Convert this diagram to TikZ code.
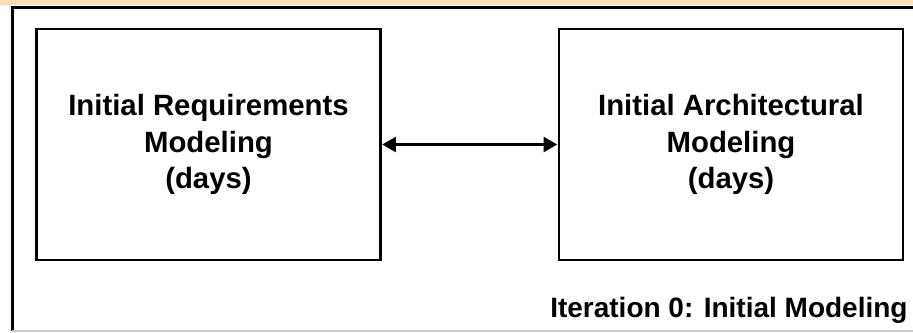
\documentclass[tikz,border=0pt]{standalone}
\usepackage{fontspec}
\setmainfont{Liberation Sans}
\usetikzlibrary{arrows}
\usepackage{xcolor}
\definecolor{bandorange}{HTML}{FDDDB6}

\begin{document}
\begin{tikzpicture}[x=0.75pt,y=-0.75pt]

\tikzset{phase/.style = {shape=rectangle,draw,line width=1.8pt,minimum width=258pt,minimum height=173pt,align=center,font=\fontsize{22}{27.5}\selectfont\bfseries}}
\tikzset{edge/.style = {<->,> = triangle 60,line width=1.8pt,shorten <=0.5pt,shorten >=0.5pt}}
\useasboundingbox (0,0) rectangle (913,332);
\fill[bandorange] (0,0) rectangle (913,5);
\draw[line width=1.8pt] (913,7.5) -- (12.5,7.5) -- (12.5,331);
\draw[line width=1pt,black!20] (12,331) -- (913,331);

\node[phase] (req) at (208.5,144.5) {Initial Requirements\\Modeling\\(days)};
\node[phase] (arch) at (731,144.5) {Initial Architectural\\Modeling\\(days)};
\node[anchor=base west,inner sep=0pt,font=\fontsize{21}{27}\selectfont\bfseries] (iter) at (550,317) {Iteration 0: Initial Modeling};

%edges
\draw[edge] (req) to (arch);
\end{tikzpicture}
\end{document}
